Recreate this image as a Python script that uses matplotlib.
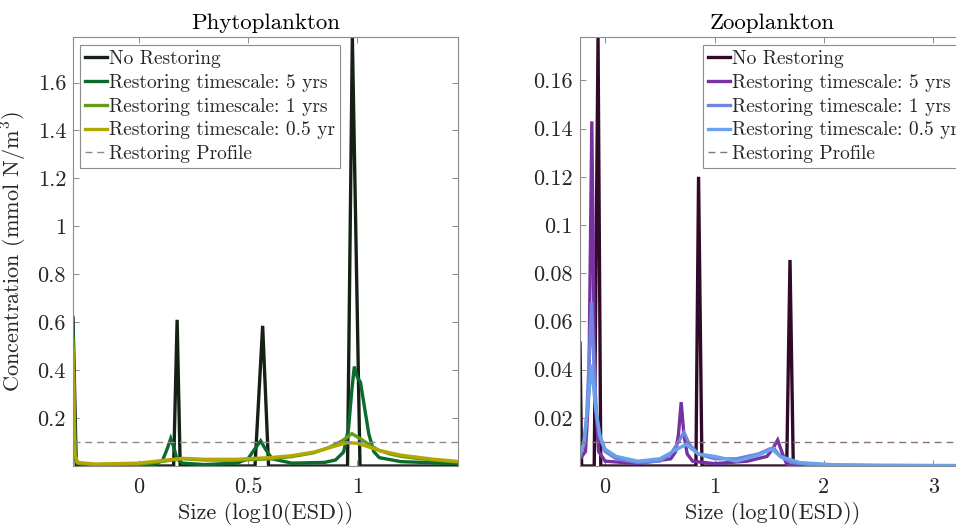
import matplotlib
matplotlib.use('Agg')
import matplotlib.pyplot as plt

# --- data ---
labels = ['No Restoring', 'Restoring timescale: 5 yrs', 'Restoring timescale: 1 yrs',
          'Restoring timescale: 0.5 yr', 'Restoring Profile']

# Phytoplankton
phy_nr_x = [-0.30, -0.285, 0.16, 0.176, 0.19, 0.532, 0.567, 0.594, 0.955, 0.977, 1.012, 1.46]
phy_nr_y = [0.62, 0.0, 0.0, 0.61, 0.0, 0.0, 0.585, 0.0, 0.0, 1.79, 0.0, 0.0]

phy_5_x = [-0.30, -0.29, -0.27, -0.2, 0.0, 0.08, 0.11, 0.13, 0.147, 0.16, 0.175, 0.2, 0.3,
           0.45, 0.5, 0.53, 0.558, 0.58, 0.61, 0.7, 0.85, 0.9, 0.937, 0.96, 0.975, 0.986,
           1.0, 1.014, 1.052, 1.075, 1.1, 1.2, 1.46]
phy_5_y = [0.56, 0.03, 0.008, 0.004, 0.003, 0.008, 0.025, 0.07, 0.115, 0.08, 0.03, 0.012, 0.006,
           0.012, 0.03, 0.07, 0.105, 0.07, 0.03, 0.012, 0.015, 0.025, 0.058, 0.16, 0.32, 0.415,
           0.37, 0.35, 0.135, 0.06, 0.035, 0.018, 0.01]

phy_1_x = [-0.30, -0.29, -0.28, -0.2, 0.0, 0.1, 0.16, 0.2, 0.3, 0.45, 0.6, 0.7, 0.8, 0.87,
           0.93, 0.975, 1.02, 1.06, 1.1, 1.15, 1.2, 1.28, 1.35, 1.46]
phy_1_y = [0.53, 0.04, 0.012, 0.006, 0.008, 0.018, 0.026, 0.03, 0.025, 0.024, 0.03, 0.039, 0.055,
           0.077, 0.105, 0.135, 0.11, 0.085, 0.065, 0.05, 0.04, 0.031, 0.025, 0.017]

phy_05_x = [-0.30, -0.292, -0.28, -0.2, 0.0, 0.1, 0.2, 0.3, 0.45, 0.6, 0.7, 0.8, 0.88, 0.95,
            1.0, 1.05, 1.1, 1.2, 1.35, 1.46]
phy_05_y = [0.49, 0.05, 0.015, 0.008, 0.012, 0.022, 0.032, 0.028, 0.028, 0.035, 0.043, 0.058,
            0.078, 0.097, 0.095, 0.08, 0.065, 0.045, 0.028, 0.019]

phy_profile = 0.1

# Zooplankton
zoo_nr_x = [-0.23, -0.215, -0.10, -0.065, -0.04, 0.83, 0.854, 0.885, 1.66, 1.69, 1.72, 3.29]
zoo_nr_y = [0.051, 0.0, 0.0, 0.178, 0.0, 0.0, 0.12, 0.0, 0.0, 0.0855, 0.0, 0.0]

zoo_5_x = [-0.23, -0.18, -0.15, -0.122, -0.095, -0.06, 0.0, 0.3, 0.6, 0.645, 0.67, 0.695, 0.72,
           0.75, 0.8, 1.0, 1.3, 1.48, 1.53, 1.577, 1.63, 1.66, 1.8, 2.2, 3.29]
zoo_5_y = [0.003, 0.006, 0.03, 0.143, 0.03, 0.006, 0.002, 0.001, 0.003, 0.006, 0.013, 0.0265,
           0.013, 0.005, 0.002, 0.001, 0.002, 0.004, 0.007, 0.0108, 0.004, 0.0008, 0.0003, 0.0, 0.0]

zoo_1_x = [-0.23, -0.2, -0.17, -0.145, -0.125, -0.105, -0.08, -0.05, 0.0, 0.1, 0.3, 0.5, 0.6,
           0.67, 0.72, 0.77, 0.85, 1.0, 1.2, 1.4, 1.5, 1.54, 1.6, 1.7, 1.9, 2.5, 3.29]
zoo_1_y = [0.004, 0.008, 0.02, 0.045, 0.068, 0.045, 0.022, 0.012, 0.006, 0.003, 0.0015, 0.002,
           0.005, 0.01, 0.014, 0.009, 0.005, 0.003, 0.003, 0.005, 0.007, 0.0075, 0.004, 0.0015,
           0.0005, 0.0002, 0.0001]

zoo_05_x = [-0.23, -0.19, -0.16, -0.125, -0.09, -0.05, 0.0, 0.1, 0.3, 0.5, 0.62, 0.74, 0.85,
            1.0, 1.2, 1.4, 1.525, 1.6, 1.78, 2.1, 2.5, 3.29]
zoo_05_y = [0.005, 0.01, 0.025, 0.042, 0.025, 0.013, 0.007, 0.004, 0.002, 0.003, 0.006, 0.009,
            0.005, 0.004, 0.002, 0.0045, 0.007, 0.004, 0.0014, 0.0005, 0.0003, 0.0002]

zoo_profile = 0.01

phy_xticks = [0, 0.5, 1]
phy_xticklabels = ['0', '0.5', '1']
phy_yticks = [0.2, 0.4, 0.6, 0.8, 1.0, 1.2, 1.4, 1.6]
phy_yticklabels = ['0.2', '0.4', '0.6', '0.8', '1', '1.2', '1.4', '1.6']
zoo_xticks = [0, 1, 2, 3]
zoo_xticklabels = ['0', '1', '2', '3']
zoo_yticks = [0.02, 0.04, 0.06, 0.08, 0.10, 0.12, 0.14, 0.16]
zoo_yticklabels = ['0.02', '0.04', '0.06', '0.08', '0.1', '0.12', '0.14', '0.16']

phy_colors = ['#142114', '#0b6a2c', '#649c18', '#b2a800']
zoo_colors = ['#300a28', '#7632a0', '#7383e4', '#67a2ea']

plt.rcParams['font.family'] = 'serif'
plt.rcParams['font.serif'] = ['cmr10']
plt.rcParams['mathtext.fontset'] = 'cm'
plt.rcParams['axes.formatter.use_mathtext'] = True
plt.rcParams['axes.unicode_minus'] = False

fig = plt.figure(figsize=(9.56, 5.25), dpi=100)
ax1 = fig.add_axes([73 / 956, 59 / 525, 385 / 956, 429 / 525])
ax2 = fig.add_axes([580 / 956, 59 / 525, 385 / 956, 429 / 525])


def draw(ax, series, colors, profile, xlim, ylim, profcolor):
    for (x, y), c, lab in zip(series, colors, labels):
        ax.plot(x, y, color=c, lw=2.4, label=lab, solid_joinstyle='miter')
    ax.axhline(profile, color=profcolor, lw=1.0, ls=(0, (5, 3.5)), label=labels[4])
    ax.set_xlim(xlim)
    ax.set_ylim(ylim)
    ax.set_xlabel('Size (log10(ESD))', fontsize=16, color='#262626', labelpad=4)
    ax.tick_params(direction='in', top=True, right=True, length=4, width=0.6,
                   color='#777777', labelsize=16, labelcolor='#262626')
    ax.tick_params(axis='x', pad=8)
    ax.tick_params(axis='y', pad=5)
    for s in ax.spines.values():
        s.set_color('#8c8c8c')
        s.set_linewidth(0.8)


draw(ax1, [(phy_nr_x, phy_nr_y), (phy_5_x, phy_5_y), (phy_1_x, phy_1_y), (phy_05_x, phy_05_y)],
     phy_colors, phy_profile, (-0.30, 1.46), (0, 1.79), '#8a8a8a')
draw(ax2, [(zoo_nr_x, zoo_nr_y), (zoo_5_x, zoo_5_y), (zoo_1_x, zoo_1_y), (zoo_05_x, zoo_05_y)],
     zoo_colors, zoo_profile, (-0.23, 3.29), (0, 0.178), '#8c7078')

ax1.set_xticks(phy_xticks, phy_xticklabels)
ax1.set_yticks(phy_yticks, phy_yticklabels)
ax2.set_xticks(zoo_xticks, zoo_xticklabels)
ax2.set_yticks(zoo_yticks, zoo_yticklabels)

ax1.set_title('Phytoplankton', fontsize=16.5, pad=6)
ax2.set_title('Zooplankton', fontsize=16.5, pad=6)
ax1.set_ylabel('Concentration (mmol N/m$^3$)', fontsize=16, color='#262626', labelpad=6)

leg_kw = dict(fontsize=14, handlelength=1.13, handletextpad=0.12, labelspacing=0.3,
              borderpad=0.25, borderaxespad=0, fancybox=False, framealpha=1,
              edgecolor='#8c8c8c', loc='upper left')
l1 = ax1.legend(bbox_to_anchor=(7 / 385, 1 - 8 / 429), **leg_kw)
l2 = ax2.legend(bbox_to_anchor=(123 / 385, 1 - 8 / 429), **leg_kw)
for l in (l1, l2):
    l.get_frame().set_linewidth(0.8)
    for t in l.get_texts():
        t.set_color('#262626')

fig.savefig('out.png', dpi=100)
plt.close()
